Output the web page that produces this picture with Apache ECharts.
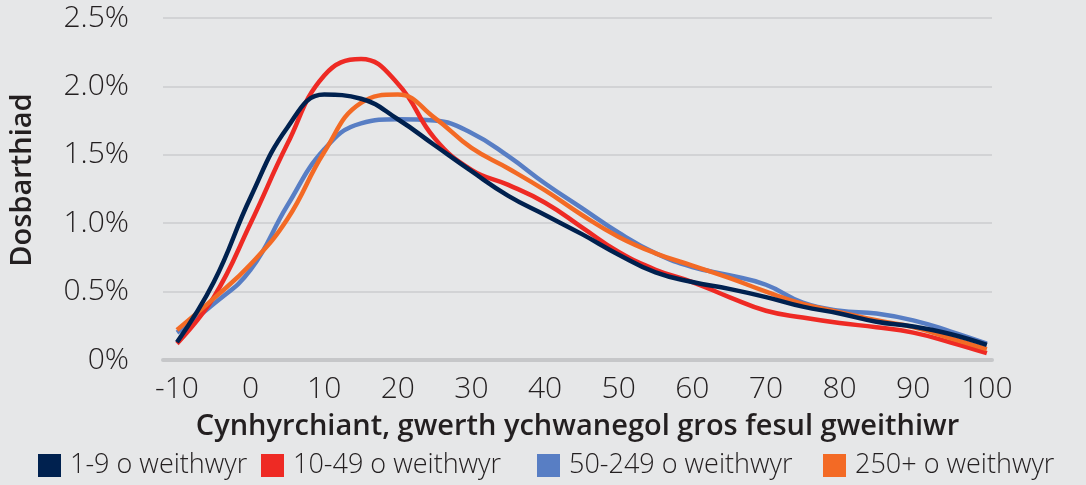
<!DOCTYPE html>
<html>
<head>
<meta charset="utf-8">
<script src="https://cdn.jsdelivr.net/npm/echarts@6/dist/echarts.min.js"></script>
<style>
  html, body { margin: 0; padding: 0; background: #e6e7e8; }
  #chart { width: 1086px; height: 485px; }
</style>
</head>
<body>
<div id="chart"></div>
<script>
    // pwyntiau x (gwerth ychwanegol gros fesul gweithiwr)
    var xPoints = [-10, -5, 0, 5, 10, 15, 20, 25, 30, 35, 40, 45, 50, 55, 60, 65, 70, 75, 80, 85, 90, 95, 100];
    var xTicks = [-10, 0, 10, 20, 30, 40, 50, 60, 70, 80, 90, 100];
    var seriesNames = ['1-9 o weithwyr', '10-49 o weithwyr', '50-249 o weithwyr', '250+ o weithwyr'];

    // dosbarthiad, %
    var size1to9 = [0.13, 0.57, 1.19, 1.70, 1.94, 1.91, 1.76, 1.57, 1.38, 1.20, 1.06, 0.92, 0.77, 0.64, 0.57, 0.52, 0.46, 0.39, 0.34, 0.28, 0.245, 0.19, 0.11];
    var size10to49 = [0.12, 0.46, 1.00, 1.58, 2.08, 2.20, 2.02, 1.62, 1.39, 1.28, 1.15, 0.97, 0.79, 0.66, 0.57, 0.46, 0.36, 0.31, 0.27, 0.24, 0.20, 0.13, 0.05];
    var size50to249 = [0.20, 0.41, 0.66, 1.13, 1.54, 1.73, 1.76, 1.75, 1.66, 1.49, 1.29, 1.11, 0.93, 0.78, 0.68, 0.62, 0.55, 0.42, 0.36, 0.34, 0.29, 0.21, 0.12];
    var size250plus = [0.22, 0.45, 0.70, 1.03, 1.52, 1.88, 1.94, 1.77, 1.55, 1.40, 1.24, 1.06, 0.90, 0.78, 0.69, 0.60, 0.50, 0.41, 0.35, 0.29, 0.24, 0.16, 0.08];

    var colors = ['#00214f', '#ee2a24', '#587ec4', '#f36a25'];
    var textColor = '#231f20';
    var fontName = 'Open Sans';
    var legendLeft = [38, 261, 537, 823];   // Excel-style fixed slots

    function toPairs(vals){
      var out = [];
      for(var i=0; i < xPoints.length; i++){
        out.push([xPoints[i], vals[i]]);
      }
      return out;
    }

    var allVals = [size1to9, size10to49, size50to249, size250plus];
    var zOrder = [5, 3, 2, 4];
    var series = [];
    var legends = [];
    allVals.forEach((vals, i) => {
      series.push({
        name: seriesNames[i],
        type: 'line',
        smooth: 0.45,
        symbol: 'none',
        z: zOrder[i],
        lineStyle: { width: 4.5, color: colors[i] },
        itemStyle: { color: colors[i] },
        data: toPairs(vals)
      });
      legends.push({
        data: [seriesNames[i]],
        left: legendLeft[i],
        top: 452,
        padding: 0,
        icon: 'rect',
        itemWidth: 23,
        itemHeight: 23,
        textStyle: { fontSize: 27, fontWeight: 300, color: textColor, fontFamily: fontName, padding: [0, 0, 0, 4] }
      });
    });

    var chartsOption = {
      backgroundColor: '#e6e7e8',
      animation: false,
      textStyle: { fontFamily: fontName, color: textColor },
      grid: {
        left: 162,
        right: 94,
        top: 18,
        bottom: 125
      },
      legend: legends,
      xAxis: {
        type: 'value',
        min: -11.9,
        max: 100.7,
        name: 'Cynhyrchiant, gwerth ychwanegol gros fesul gweithiwr',
        nameLocation: 'middle',
        nameGap: 52,
        nameTextStyle: { fontSize: 29, fontWeight: 600, color: textColor, fontFamily: fontName },
        axisLine: { show: true, onZero: false, lineStyle: { color: '#c6c7c9', width: 4 } },
        axisTick: { show: false },
        splitLine: { show: false },
        axisLabel: {
          customValues: xTicks,
          fontSize: 30,
          fontWeight: 300,
          color: textColor,
          margin: 14,
          showMinLabel: true,
          showMaxLabel: true
        }
      },
      yAxis: {
        type: 'value',
        min: 0,
        max: 2.5,
        interval: 0.5,
        name: 'Dosbarthiad',
        nameLocation: 'middle',
        nameGap: 126,
        nameTextStyle: { fontSize: 29, fontWeight: 600, color: textColor, fontFamily: fontName, padding: [0, 0, 0, 18] },
        axisLine: { show: false },
        axisTick: { show: false },
        splitLine: { lineStyle: { color: '#cbcccf', width: 1.5 } },
        axisLabel: {
          fontSize: 30,
          fontWeight: 300,
          color: textColor,
          margin: 34,
          formatter: function(v){ return v === 0 ? '0%' : v.toFixed(1) + '%'; }
        }
      },
      series: series
    };

    var myChart = echarts.init(document.getElementById('chart'));
    chartsOption && myChart.setOption(chartsOption, true);
</script>
</body>
</html>
